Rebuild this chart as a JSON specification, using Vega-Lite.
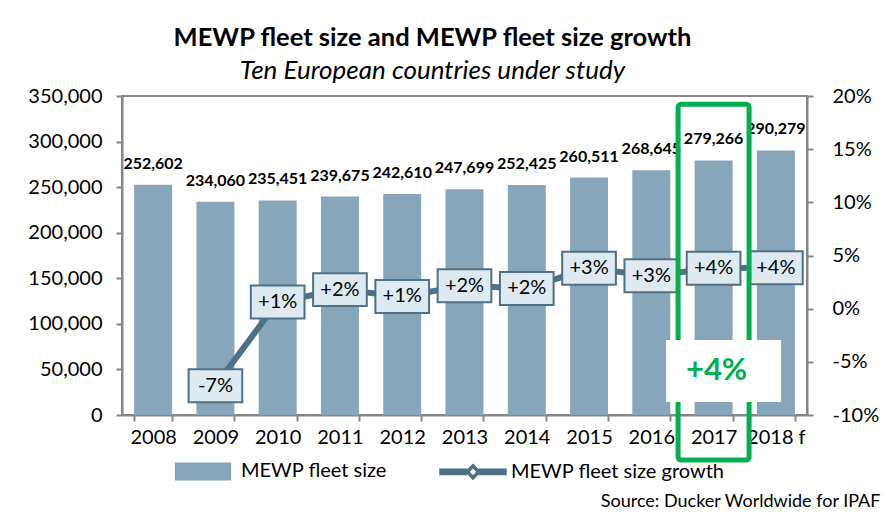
{
  "$schema": "https://vega.github.io/schema/vega-lite/v6.json",
  "autosize": {"type": "none"},
  "padding": {"left": 122, "top": 96, "right": 80, "bottom": 101},
  "width": 685,
  "height": 319,
  "background": "white",
  "title": {
    "text": "MEWP fleet size and MEWP fleet size growth",
    "subtitle": "Ten European countries under study",
    "anchor": "middle",
    "frame": "group",
    "dx": -32,
    "offset": 2,
    "font": "Lato",
    "fontSize": 25.5,
    "fontWeight": "bold",
    "color": "#000000",
    "subtitleFont": "Lato",
    "subtitleFontSize": 26,
    "subtitleFontStyle": "italic",
    "subtitleColor": "#000000",
    "subtitlePadding": 7
  },
  "config": {
    "font": "Lato",
    "view": {"stroke": "#868686", "strokeWidth": 2},
    "axis": {
      "labelFont": "Lato",
      "labelFontSize": 20,
      "labelColor": "#000000",
      "domainColor": "#868686",
      "domainWidth": 2,
      "tickColor": "#868686",
      "tickWidth": 2,
      "tickSize": 6,
      "grid": false
    }
  },
  "data": {
    "values": [
      {"year": "2008", "fleet": 252602, "growth": null, "glabel": null},
      {"year": "2009", "fleet": 234060, "growth": -0.0725, "glabel": "-7%"},
      {"year": "2010", "fleet": 235451, "growth": 0.0063, "glabel": "+1%"},
      {"year": "2011", "fleet": 239675, "growth": 0.0179, "glabel": "+2%"},
      {"year": "2012", "fleet": 242610, "growth": 0.0115, "glabel": "+1%"},
      {"year": "2013", "fleet": 247699, "growth": 0.0215, "glabel": "+2%"},
      {"year": "2014", "fleet": 252425, "growth": 0.019, "glabel": "+2%"},
      {"year": "2015", "fleet": 260511, "growth": 0.038, "glabel": "+3%"},
      {"year": "2016", "fleet": 268645, "growth": 0.031, "glabel": "+3%"},
      {"year": "2017", "fleet": 279266, "growth": 0.038, "glabel": "+4%"},
      {"year": "2018 f", "fleet": 290279, "growth": 0.0385, "glabel": "+4%"}
    ]
  },
  "encoding": {
    "x": {
      "field": "year",
      "type": "ordinal",
      "sort": null,
      "scale": {"paddingInner": 0.39, "paddingOuter": 0.195},
      "axis": {
        "labelAngle": 0,
        "labelPadding": 6,
        "tickBand": "extent",
        "title": "Source: Ducker Worldwide for IPAF",
        "titleFont": "Lato",
        "titleFontSize": 18,
        "titleFontWeight": "normal",
        "titleColor": "#000000",
        "titleAnchor": "end",
        "titleAlign": "right",
        "titleBaseline": "middle",
        "titleX": 758,
        "titleY": 86
      }
    }
  },
  "layer": [
    {
      "layer": [
        {
          "mark": {"type": "bar"},
          "encoding": {
            "y": {
              "field": "fleet",
              "type": "quantitative",
              "scale": {"domain": [0, 350000], "nice": false, "zero": true},
              "axis": {
                "orient": "left",
                "title": null,
                "values": [0, 50000, 100000, 150000, 200000, 250000, 300000, 350000],
                "format": ",d",
                "labelPadding": 14
              }
            },
            "color": {
              "datum": "MEWP fleet size",
              "type": "nominal",
              "scale": {
                "domain": ["MEWP fleet size", "MEWP fleet size growth"],
                "range": ["#87a6b9", "#4e7185"]
              },
              "legend": {
                "orient": "none",
                "direction": "horizontal",
                "legendX": 47,
                "legendY": 341,
                "title": null,
                "labelFont": "Lato",
                "labelFontSize": 20,
                "labelColor": "#000000",
                "labelLimit": 400,
                "symbolSize": 4356,
                "columnPadding": 50,
                "labelOffset": 4,
                "encode": {
                  "symbols": {
                    "update": {
                      "shape": {"signal": "datum.value === 'MEWP fleet size' ? 'M-0.83,-0.25L0.83,-0.25L0.83,0.25L-0.83,0.25Z' : 'M-1,-0.08L-0.2,-0.08L-0.2,0.08L-1,0.08Z M0.2,-0.08L1,-0.08L1,0.08L0.2,0.08Z M0,-0.22L0.22,0L0,0.22L-0.22,0Z M0,-0.13L-0.13,0L0,0.13L0.13,0Z'"},
                      "fill": {"signal": "datum.value === 'MEWP fleet size' ? '#87a6b9' : '#4e7185'"},
                      "stroke": {"value": "transparent"},
                      "size": {"value": 4356},
                      "opacity": {"value": 1},
                      "fillOpacity": {"value": 1}
                    }
                  }
                }
              }
            }
          }
        },
        {
          "mark": {"type": "text", "font": "Lato", "fontSize": 16, "fontWeight": "bold", "color": "#000000", "baseline": "middle", "dy": -21},
          "encoding": {
            "y": {"field": "fleet", "type": "quantitative", "scale": {"domain": [0, 350000], "nice": false}},
            "text": {"field": "fleet", "type": "quantitative", "format": ","}
          }
        }
      ]
    },
    {
      "transform": [{"filter": "datum.growth != null"}],
      "layer": [
        {
          "mark": {"type": "line", "strokeWidth": 6},
          "encoding": {
            "y": {
              "field": "growth",
              "type": "quantitative",
              "scale": {"domain": [-0.1, 0.2], "nice": false, "zero": false},
              "axis": {
                "orient": "right",
                "title": null,
                "values": [-0.1, -0.05, 0, 0.05, 0.1, 0.15, 0.2],
                "format": ".0%",
                "labelExpr": "replace(datum.label, '\u2212', '-')",
                "labelPadding": 19
              }
            },
            "color": {"datum": "MEWP fleet size growth", "type": "nominal"}
          }
        },
        {
          "mark": {
            "type": "point",
            "shape": "M-1.55,-0.95L1.55,-0.95L1.55,0.95L-1.55,0.95Z",
            "size": 1200,
            "filled": true,
            "fill": "#dfeaf0",
            "stroke": "#4e7185",
            "strokeWidth": 2,
            "opacity": 1
          },
          "encoding": {
            "y": {"field": "growth", "type": "quantitative", "scale": {"domain": [-0.1, 0.2], "nice": false, "zero": false}}
          }
        },
        {
          "mark": {"type": "text", "font": "Lato", "fontSize": 20, "color": "#000000", "baseline": "middle"},
          "encoding": {
            "y": {"field": "growth", "type": "quantitative", "scale": {"domain": [-0.1, 0.2], "nice": false, "zero": false}},
            "text": {"field": "glabel", "type": "nominal"}
          }
        }
      ]
    },
    {
      "data": {"values": [{"year": "2017", "top": 341000, "bottom": -49400, "boxTop": 82300, "boxBottom": 14300, "mid": 48300, "callout": "+4%"}]},
      "layer": [
        {
          "mark": {"type": "bar", "width": 71, "fill": "transparent", "stroke": "#00b050", "strokeWidth": 5, "cornerRadius": 3, "clip": false},
          "encoding": {
            "y": {"field": "top", "type": "quantitative", "scale": {"domain": [0, 350000], "nice": false}, "axis": null},
            "y2": {"field": "bottom"}
          }
        },
        {
          "mark": {"type": "bar", "width": 115, "xOffset": 10, "fill": "#ffffff", "stroke": null},
          "encoding": {
            "y": {"field": "boxTop", "type": "quantitative", "scale": {"domain": [0, 350000], "nice": false}, "axis": null},
            "y2": {"field": "boxBottom"}
          }
        },
        {
          "mark": {"type": "text", "font": "Lato", "fontSize": 31, "fontWeight": "bold", "color": "#00b050", "baseline": "middle", "dx": 3},
          "encoding": {
            "y": {"field": "mid", "type": "quantitative", "scale": {"domain": [0, 350000], "nice": false}, "axis": null},
            "text": {"field": "callout", "type": "nominal"}
          }
        }
      ]
    }
  ],
  "resolve": {"scale": {"y": "independent"}}
}
